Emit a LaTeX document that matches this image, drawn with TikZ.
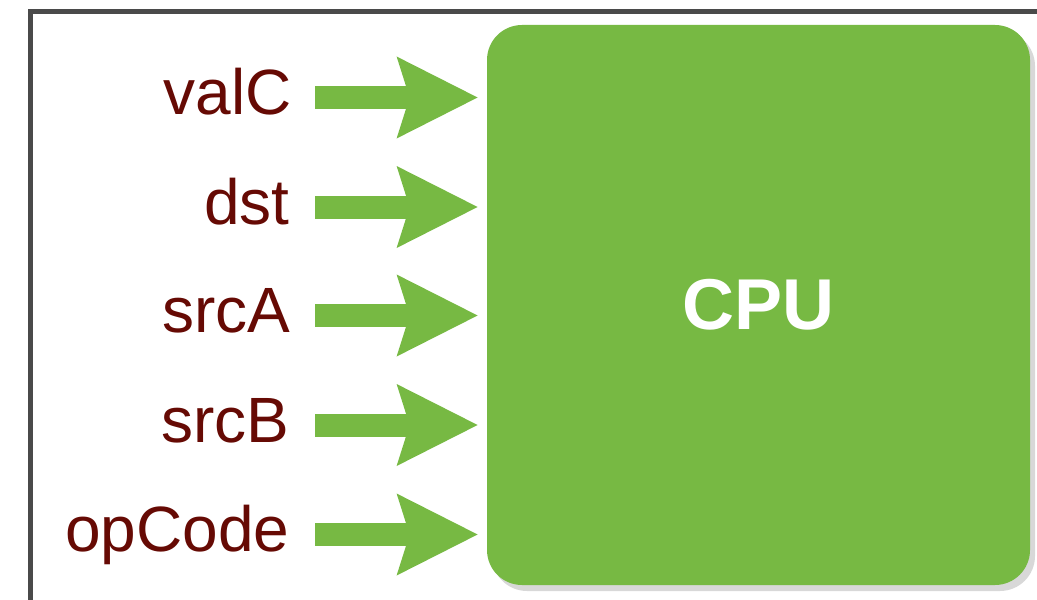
\documentclass[tikz,border=0pt]{standalone}
\usepackage{fontspec}
\setmainfont{Liberation Sans}
\usetikzlibrary{arrows.meta,shadows}
\definecolor{cpugreen}{RGB}{119,185,67}
\definecolor{lblred}{RGB}{102,10,4}
\definecolor{framegray}{RGB}{74,74,74}
\begin{document}
\begin{tikzpicture}[x=0.5pt,y=-0.5pt,
    lbl/.style={text=lblred,font=\fontsize{32}{38}\selectfont,inner sep=0pt,anchor=base east},
    feed/.style={cpugreen,line width=11.5pt,-{Stealth[length=40.5pt,width=41pt,inset=6.5pt,line width=0pt]},shorten >=4.5pt},
    cpubox/.style={fill=cpugreen,rounded corners=17.5pt,minimum width=271.5pt,minimum height=280pt,text=white,font=\bfseries\fontsize{36}{43}\selectfont,drop shadow={shadow xshift=2.5pt,shadow yshift=-3pt,opacity=0.3}}]
    \useasboundingbox (0,0) rectangle (1037,599);
    \clip (0,0) rectangle (1037,599);
    % outer frame
    \draw[framegray,fill=white,line width=2.5pt,drop shadow={shadow xshift=-1.5pt,shadow yshift=-1.5pt,opacity=0.15}] (30.5,11.5) rectangle (1120,680);
    \node[cpubox] (cpu) at (758.5,305) {CPU};
    % inputs
    \coordinate (valCout) at (315,97.5);
    \coordinate (dstout) at (315,207);
    \coordinate (srcAout) at (315,315.5);
    \coordinate (srcBout) at (315,425);
    \coordinate (opCodeout) at (315,534.5);
    \node[lbl] (valC) at (292,114.5) {valC};
    \node[lbl] (dst) at (290,224) {dst};
    \node[lbl] (srcA) at (291,332.5) {srcA};
    \node[lbl] (srcB) at (290,442) {srcB};
    \node[lbl] (opCode) at (290,551.5) {opCode};
    \draw[feed] (valCout) -- (valCout -| cpu.west);
    \draw[feed] (dstout) -- (dstout -| cpu.west);
    \draw[feed] (srcAout) -- (srcAout -| cpu.west);
    \draw[feed] (srcBout) -- (srcBout -| cpu.west);
    \draw[feed] (opCodeout) -- (opCodeout -| cpu.west);
\end{tikzpicture}
\end{document}
